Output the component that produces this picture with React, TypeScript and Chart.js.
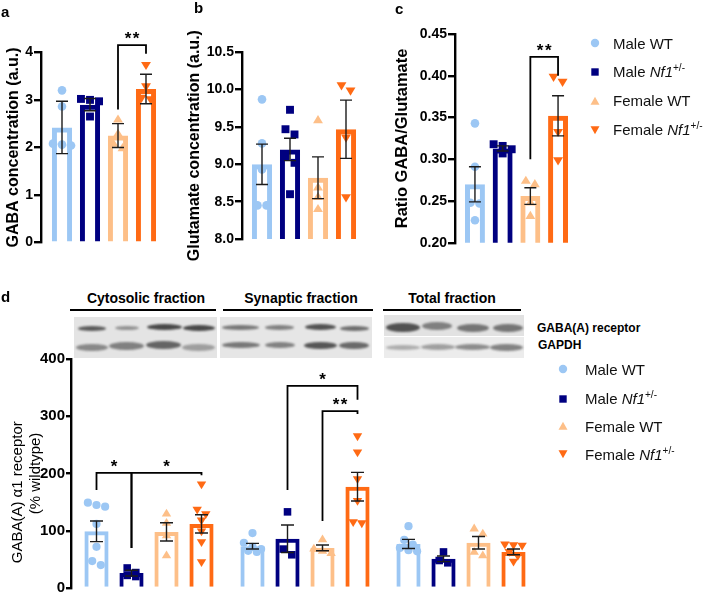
import React, { useEffect, useRef } from 'react';
import { Chart, registerables } from 'chart.js';

Chart.register(...registerables);

const FONT = "Arial, 'Liberation Sans', Helvetica, sans-serif";

// ---------- series ----------
const seriesNames = ['Male WT', 'Male Nf1+/-', 'Female WT', 'Female Nf1+/-'];
const seriesColors = ['#9CC7F4', '#000080', '#FDBF88', '#FF6A14'];
const seriesMarkers = ['circle', 'square', 'triangle', 'triangleDown'];

// ---------- panel a : GABA concentration ----------
const gabaTicks = [0, 1, 2, 3, 4];
const gabaMean = [2.42, 2.9, 2.25, 3.23];
const gabaError = [0.55, 0.13, 0.25, 0.31];
const gabaPoints = [
  [3.2, 2.86, 2.08, 2.06, 2.04],
  [3.02, 3.0, 2.97, 2.65],
  [2.6, 2.3, 2.09, 2.0],
  [3.72, 3.27, 3.03, 3.0],
];
const gabaBrackets = [
  { from: [2, 0], to: [3, 0], fromY: 2.8, topY: 4.15, toY: 3.97, label: '**' },
];

// ---------- panel b : Glutamate concentration ----------
const gluTicks = [8.0, 8.5, 9.0, 9.5, 10.0, 10.5];
const gluMean = [9.0, 9.2, 8.82, 9.47];
const gluError = [0.27, 0.15, 0.28, 0.39];
const gluPoints = [
  [9.87, 9.28, 8.93, 8.45, 8.45],
  [9.73, 9.47, 9.4, 9.1, 9.02, 8.6],
  [9.6, 8.7, 8.57, 8.41],
  [10.05, 9.98, 9.35, 8.55],
];

// ---------- panel c : Ratio GABA / Glutamate ----------
const ratioTicks = [0.2, 0.25, 0.3, 0.35, 0.4, 0.45];
const ratioMean = [0.27, 0.313, 0.256, 0.352];
const ratioError = [0.021, 0.003, 0.01, 0.024];
const ratioPoints = [
  [0.343, 0.291, 0.248, 0.247, 0.227],
  [0.318, 0.316, 0.312, 0.307],
  [0.275, 0.271, 0.249, 0.233],
  [0.398, 0.392, 0.332, 0.298],
];
const ratioBrackets = [
  { from: [2, 0], to: [3, 0], fromY: 0.3, topY: 0.4225, toY: 0.4, label: '**' },
];

// ---------- panel d : GABA(A) a1 receptor ----------
const fractionLabels = ['Cytosolic fraction', 'Synaptic fraction', 'Total fraction'];
const receptorTicks = [0, 100, 200, 300, 400];
const receptorMean = [
  [99, 73, 77],
  [26, 86, 51],
  [98, 70, 79],
  [112, 177, 63],
];
const receptorError = [
  [18, 5, 8],
  [5, 24, 5],
  [16, 5, 11],
  [16, 25, 5],
];
const receptorPoints = [
  [[149, 145, 142, 112, 72, 47, 40], [96, 79, 72, 68, 65, 63], [108, 84, 76, 70, 66, 64]],
  [[35, 27, 22, 20], [133, 68, 58], [63, 48, 44]],
  [[131, 115, 93, 58], [86, 70, 66, 62], [105, 96, 64, 58]],
  [[180, 136, 128, 117, 98, 79, 44], [264, 236, 189, 151, 114, 112], [75, 74, 73, 62, 55, 45]],
];
const receptorBrackets = [
  { from: [0, 0], to: [1, 0], fromY: 171, topY: 201, toY: 70, label: '*' },
  { from: [1, 0], to: [3, 0], fromY: 70, topY: 201, toY: 197, label: '*' },
  { from: [1, 1], to: [3, 1], fromY: 171, topY: 353, toY: 329, label: '*' },
  { from: [2, 1], to: [3, 1], fromY: 117, topY: 309, toY: 304, label: '**' },
];

// ---------- drawing helpers ----------
function markerPath(ctx: CanvasRenderingContext2D, kind: string, x: number, y: number, r: number) {
  ctx.beginPath();
  if (kind === 'circle') {
    ctx.arc(x, y, r, 0, Math.PI * 2);
  } else if (kind === 'square') {
    const s = r * 0.92;
    ctx.rect(x - s, y - s, 2 * s, 2 * s);
  } else if (kind === 'triangle') {
    const w = r * 1.15, h = r * 1.9;
    ctx.moveTo(x, y - h * 0.55);
    ctx.lineTo(x + w, y + h * 0.45);
    ctx.lineTo(x - w, y + h * 0.45);
    ctx.closePath();
  } else {
    const w = r * 1.15, h = r * 1.9;
    ctx.moveTo(x, y + h * 0.55);
    ctx.lineTo(x + w, y - h * 0.45);
    ctx.lineTo(x - w, y - h * 0.45);
    ctx.closePath();
  }
}

function dodge(ys: number[], d: number): number[] {
  const order = ys.map((_, i) => i).sort((a, b) => ys[a] - ys[b]);
  const xs = new Array(ys.length).fill(0);
  let cluster: number[] = [];
  const flush = () => {
    const n = cluster.length;
    cluster.forEach((idx, k) => {
      xs[idx] = (k - (n - 1) / 2) * d;
    });
    cluster = [];
  };
  for (const i of order) {
    if (cluster.length && Math.abs(ys[i] - ys[cluster[0]]) > d * 0.85) flush();
    cluster.push(i);
  }
  flush();
  return xs;
}

type Bracket = { from: number[]; to: number[]; fromY: number; topY: number; toY: number; label: string };

type PanelDef = {
  id: string;
  labels: string[];
  means: number[][];
  errors: number[][];
  points: number[][][];
  brackets: Bracket[];
  ticks: number[];
  decimals: number;
  title: string | string[];
  titleWeight: string;
  titleSize: number;
  tickSize: number;
  tickLength: number;
  padLeft: number;
  axisX: number;
  top: number;
  bottom: number;
  right: number;
  catPct: number;
  barPct: number;
  barBorder: number;
  markerR: number;
  capHalf: number;
};

const CANVAS_W = 708;
const CANVAS_H = 640;

function overlayPlugin(p: PanelDef) {
  return {
    id: 'overlay-' + p.id,
    afterDatasetsDraw(chart: any) {
      const ctx: CanvasRenderingContext2D = chart.ctx;
      const y = chart.scales.y;
      const n = chart.data.datasets.length;
      ctx.save();
      // individual points
      for (let s = 0; s < n; s++) {
        const meta = chart.getDatasetMeta(s);
        meta.data.forEach((bar: any, c: number) => {
          const vals = p.points[s][c];
          const ys = vals.map((v) => y.getPixelForValue(v));
          const xs = dodge(ys, p.markerR * 2.1);
          ctx.fillStyle = seriesColors[s];
          ys.forEach((py, k) => {
            markerPath(ctx, seriesMarkers[s], bar.x + xs[k], py, p.markerR);
            ctx.fill();
          });
        });
      }
      // error bars
      ctx.strokeStyle = '#1c1c1c';
      ctx.lineWidth = 1.4;
      for (let s = 0; s < n; s++) {
        const meta = chart.getDatasetMeta(s);
        meta.data.forEach((bar: any, c: number) => {
          const m = chart.data.datasets[s].data[c] as number;
          const e = p.errors[s][c];
          const t = y.getPixelForValue(m + e);
          const b = y.getPixelForValue(m - e);
          ctx.beginPath();
          ctx.moveTo(bar.x, t);
          ctx.lineTo(bar.x, b);
          ctx.moveTo(bar.x - p.capHalf, t);
          ctx.lineTo(bar.x + p.capHalf, t);
          ctx.moveTo(bar.x - p.capHalf, b);
          ctx.lineTo(bar.x + p.capHalf, b);
          ctx.stroke();
        });
      }
      // significance brackets
      ctx.strokeStyle = '#000';
      ctx.lineWidth = 1.8;
      ctx.fillStyle = '#000';
      ctx.font = `bold 17px ${FONT}`;
      ctx.textAlign = 'center';
      ctx.textBaseline = 'alphabetic';
      p.brackets.forEach((br) => {
        const xa = chart.getDatasetMeta(br.from[0]).data[br.from[1]].x;
        const xb = chart.getDatasetMeta(br.to[0]).data[br.to[1]].x;
        const ya = y.getPixelForValue(br.fromY);
        const yt = y.getPixelForValue(br.topY);
        const yb = y.getPixelForValue(br.toY);
        ctx.beginPath();
        ctx.moveTo(xa, ya);
        ctx.lineTo(xa, yt);
        ctx.lineTo(xb, yt);
        ctx.lineTo(xb, yb);
        ctx.stroke();
        const lbl = br.label.split('').join(String.fromCharCode(8202));
        ctx.fillText(lbl, (xa + xb) / 2, yt - 1);
      });
      ctx.restore();
    },
  };
}

function makeConfig(p: PanelDef): any {
  return {
    type: 'bar',
    data: {
      labels: p.labels,
      datasets: seriesNames.map((name, s) => ({
        label: name,
        data: p.means[s],
        backgroundColor: 'rgba(255,255,255,0)',
        borderColor: seriesColors[s],
        borderWidth: p.barBorder,
        borderSkipped: 'bottom',
        categoryPercentage: p.catPct,
        barPercentage: p.barPct,
      })),
    },
    options: {
      responsive: false,
      animation: false,
      events: [],
      layout: {
        padding: {
          left: p.padLeft,
          top: p.top,
          right: CANVAS_W - p.right,
          bottom: CANVAS_H - p.bottom,
        },
      },
      plugins: { legend: { display: false }, tooltip: { enabled: false } },
      scales: {
        x: { display: false },
        y: {
          min: p.ticks[0],
          max: p.ticks[p.ticks.length - 1],
          afterBuildTicks: (scale: any) => {
            scale.ticks = p.ticks.map((v) => ({ value: v }));
          },
          afterFit: (scale: any) => {
            scale.width = p.axisX - p.padLeft;
          },
          ticks: {
            color: '#000',
            padding: 1,
            font: { family: FONT, size: p.tickSize, weight: 'bold' },
            callback: (v: any) => Number(v).toFixed(p.decimals),
          },
          grid: {
            drawOnChartArea: false,
            drawTicks: true,
            tickLength: p.tickLength,
            color: '#000',
            lineWidth: 2.4,
          },
          border: { display: true, color: '#000', width: 2.4 },
          title: {
            display: true,
            text: p.title,
            color: '#000',
            padding: 0,
            font: { family: FONT, size: p.titleSize, weight: p.titleWeight, lineHeight: 1.2 },
          },
        },
      },
    },
    plugins: [overlayPlugin(p)],
  };
}

const panels: PanelDef[] = [
  {
    id: 'a', labels: [''], means: gabaMean.map((m) => [m]), errors: gabaError.map((e) => [e]),
    points: gabaPoints.map((p) => [p]), brackets: gabaBrackets, ticks: gabaTicks, decimals: 0,
    title: 'GABA concentration (a.u.)', titleWeight: 'bold', titleSize: 16, tickSize: 14, tickLength: 7,
    padLeft: 4, axisX: 41, top: 52.3, bottom: 242.6, right: 167,
    catPct: 112 / 126, barPct: 0.72, barBorder: 5, markerR: 4.3, capHalf: 6,
  },
  {
    id: 'b', labels: [''], means: gluMean.map((m) => [m]), errors: gluError.map((e) => [e]),
    points: gluPoints.map((p) => [p]), brackets: [], ticks: gluTicks, decimals: 1,
    title: 'Glutamate concentration (a.u.)', titleWeight: 'bold', titleSize: 16, tickSize: 14, tickLength: 7,
    padLeft: 185, axisX: 242, top: 52.3, bottom: 239, right: 366,
    catPct: 112 / 124, barPct: 0.72, barBorder: 5, markerR: 4.3, capHalf: 6,
  },
  {
    id: 'c', labels: [''], means: ratioMean.map((m) => [m]), errors: ratioError.map((e) => [e]),
    points: ratioPoints.map((p) => [p]), brackets: ratioBrackets, ticks: ratioTicks, decimals: 2,
    title: 'Ratio GABA/Glutamate', titleWeight: 'bold', titleSize: 16.5, tickSize: 14, tickLength: 7,
    padLeft: 393, axisX: 455, top: 34, bottom: 242.8, right: 578,
    catPct: 110.8 / 123, barPct: 0.72, barBorder: 5, markerR: 4.3, capHalf: 6,
  },
  {
    id: 'd', labels: fractionLabels, means: receptorMean, errors: receptorError,
    points: receptorPoints, brackets: receptorBrackets, ticks: receptorTicks, decimals: 0,
    title: ['GABA(A) \u03B11 receptor\u2003\u2003\u2002', '(% wildtype)'], titleWeight: 'normal', titleSize: 15, tickSize: 15, tickLength: 5,
    padLeft: 9, axisX: 71, top: 359, bottom: 588, right: 539,
    catPct: 140 / 156, barPct: 0.69, barBorder: 4, markerR: 4.1, capHalf: 6.5,
  },
];

function ChartCanvas({ def }: { def: PanelDef }) {
  const ref = useRef<HTMLCanvasElement | null>(null);
  useEffect(() => {
    if (!ref.current) return;
    const chart = new Chart(ref.current, makeConfig(def));
    return () => chart.destroy();
  }, [def]);
  return (
    <canvas
      ref={ref}
      width={CANVAS_W}
      height={CANVAS_H}
      style={{ position: 'absolute', left: 0, top: 0, width: CANVAS_W, height: CANVAS_H }}
    />
  );
}

// ---------- decorations (layout only) ----------
function Marker({ kind, color, size }: { kind: string; color: string; size: number }) {
  let shape: React.ReactNode;
  if (kind === 'circle') shape = <circle cx={5} cy={5} r={4.2} fill={color} />;
  else if (kind === 'square') shape = <rect x={1.3} y={1.3} width={7.4} height={7.4} fill={color} />;
  else if (kind === 'triangle') shape = <polygon points="5,0.8 9.5,8.8 0.5,8.8" fill={color} />;
  else shape = <polygon points="0.5,1.2 9.5,1.2 5,9.2" fill={color} />;
  return (
    <svg width={size} height={size} viewBox="0 0 10 10" style={{ display: 'block' }}>
      {shape}
    </svg>
  );
}

function SeriesLabel({ index }: { index: number }) {
  const name = seriesNames[index];
  if (name.indexOf('Nf1') < 0) return <span>{name}</span>;
  const [sex] = name.split(' ');
  return (
    <span>
      {sex} <i>Nf1</i>
      <sup style={{ fontSize: 10, verticalAlign: 0, position: 'relative', top: -6 }}>+/-</sup>
    </span>
  );
}

function Legend({ markerX, textX, rows }: { markerX: number; textX: number; rows: number[] }) {
  return (
    <>
      {seriesNames.map((_, i) => (
        <React.Fragment key={i}>
          <div style={{ position: 'absolute', left: markerX - 5, top: rows[i] - 5 }}>
            <Marker kind={seriesMarkers[i]} color={seriesColors[i]} size={10} />
          </div>
          <div
            style={{
              position: 'absolute', left: textX, top: rows[i] - 0.49 * 15, fontSize: 15,
              lineHeight: 1, whiteSpace: 'nowrap', color: '#111',
            }}
          >
            <SeriesLabel index={i} />
          </div>
        </React.Fragment>
      ))}
    </>
  );
}

const blotStrips = [
  { x: 74, y: 317, w: 143, h: 41, bg: '#e4e4e4' },
  { x: 220, y: 317, w: 152, h: 41, bg: '#e6e6e6' },
  { x: 384, y: 315, w: 140, h: 21, bg: '#e2e2e2' },
  { x: 384, y: 337, w: 140, h: 21, bg: '#ececec' },
];
// [x0, x1, centerY, height, darkness]
const blotBands = [
  [78, 106, 328, 5, 0.75], [115, 139, 328, 4, 0.45], [147, 182, 327, 6, 0.85], [183, 215, 328, 6, 0.85],
  [76, 108, 347, 7, 0.5], [109, 144, 346, 8, 0.55], [146, 181, 345, 8, 0.7], [182, 215, 347, 7, 0.38],
  [222, 259, 327, 5, 0.6], [265, 294, 327, 5, 0.55], [305, 336, 327, 6, 0.8], [340, 369, 328, 5, 0.65],
  [222, 260, 345, 6, 0.6], [265, 295, 345, 6, 0.55], [304, 337, 345, 7, 0.78], [339, 369, 345, 7, 0.68],
  [386, 420, 327, 9, 0.8], [422, 452, 326, 8, 0.55], [457, 489, 328, 8, 0.6], [493, 523, 328, 8, 0.6],
  [386, 420, 347, 5, 0.33], [421, 455, 347, 6, 0.4], [455, 490, 347, 6, 0.5], [490, 523, 347, 7, 0.55],
];

function Blots() {
  return (
    <>
      {blotStrips.map((s, i) => (
        <div key={'s' + i} style={{ position: 'absolute', left: s.x, top: s.y, width: s.w, height: s.h, background: s.bg }} />
      ))}
      {blotBands.map((b, i) => (
        <div
          key={'b' + i}
          style={{
            position: 'absolute', left: b[0], top: b[2] - b[3] / 2, width: b[1] - b[0], height: b[3],
            borderRadius: '50%', background: `rgba(45,45,45,${b[4]})`, filter: 'blur(1.3px)',
          }}
        />
      ))}
    </>
  );
}

function Txt({ x, cy, size, bold, children, align, width }: any) {
  const w = width ?? 300;
  const left = align === 'center' ? x - w / 2 : x;
  return (
    <div
      style={{
        position: 'absolute', left, top: cy - 0.49 * size, width: w, fontSize: size, lineHeight: 1,
        fontWeight: bold ? 'bold' : 'normal', textAlign: align === 'center' ? 'center' : 'left',
        whiteSpace: 'nowrap', color: '#000',
      }}
    >
      {children}
    </div>
  );
}

const fractionHeads = [
  { cx: 146, x0: 70, x1: 216 },
  { cx: 301, x0: 223, x1: 373 },
  { cx: 452, x0: 383, x1: 521 },
];

export default function App() {
  return (
    <div
      style={{
        position: 'absolute', left: 0, top: 0, width: 708, height: 593, overflow: 'hidden',
        background: '#fff', fontFamily: FONT,
      }}
    >
      <Blots />
      {fractionHeads.map((h, i) => (
        <React.Fragment key={i}>
          <Txt x={h.cx} cy={298} size={14} bold align="center">{fractionLabels[i]}</Txt>
          <div style={{ position: 'absolute', left: h.x0, top: 309.3, width: h.x1 - h.x0, height: 1.6, background: '#000' }} />
        </React.Fragment>
      ))}
      <Txt x={537} cy={328} size={12} bold>GABA(A) receptor</Txt>
      <Txt x={538} cy={345} size={12} bold>GAPDH</Txt>

      {panels.map((p) => (
        <ChartCanvas key={p.id} def={p} />
      ))}

      <Txt x={1} cy={11} size={15} bold>a</Txt>
      <Txt x={194} cy={7} size={15} bold>b</Txt>
      <Txt x={395} cy={8} size={15} bold>c</Txt>
      <Txt x={1} cy={296} size={15} bold>d</Txt>

      <Legend markerX={595} textX={613} rows={[43, 71.5, 100.5, 129.5]} />
      <Legend markerX={563} textX={585} rows={[369, 398.5, 426, 454]} />
    </div>
  );
}
